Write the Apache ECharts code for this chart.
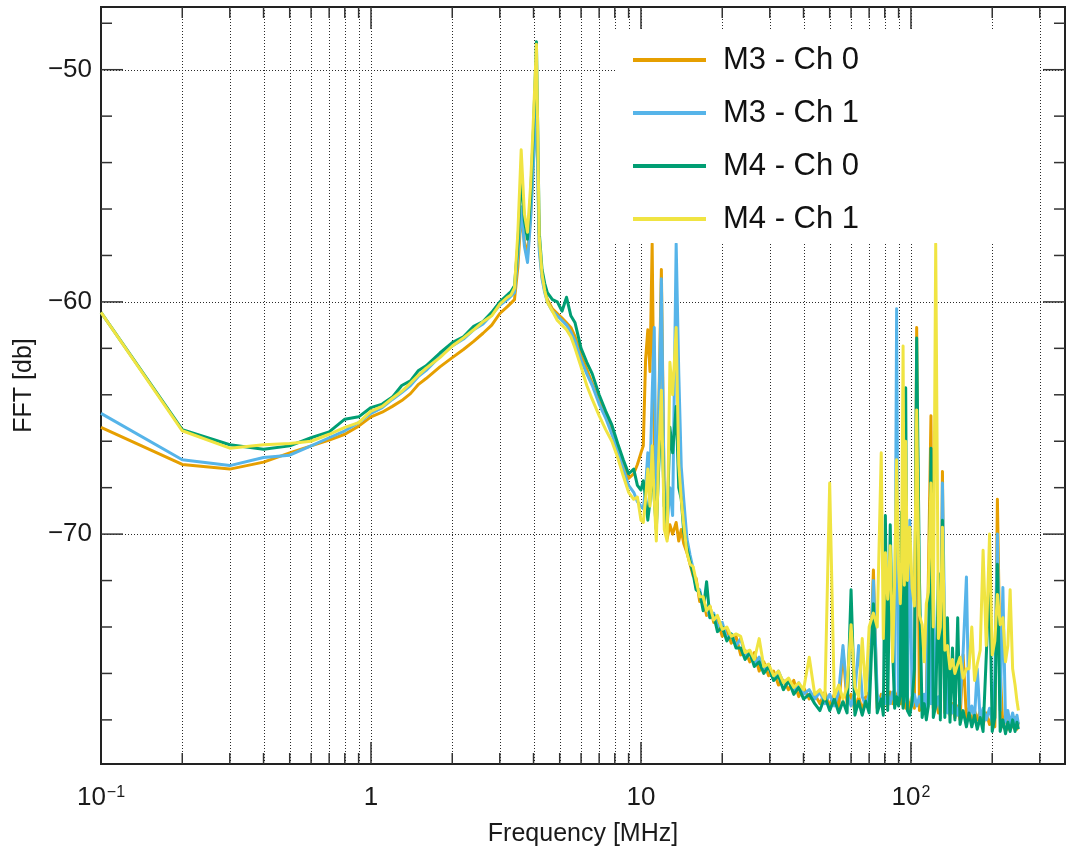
<!DOCTYPE html>
<html><head><meta charset="utf-8">
<script src="https://cdn.jsdelivr.net/npm/echarts@6/dist/echarts.min.js"></script>
<style>html,body{margin:0;padding:0;background:#fff}#c{width:1066px;height:851px}</style>
</head><body><div id="c"></div>
<script>
// ---------------- data ----------------
const freqMHz = [
  0.1, 0.2, 0.3, 0.4, 0.5, 0.6, 0.7, 0.8, 0.9, 1.0,
  1.1, 1.2, 1.3, 1.4, 1.5, 1.6, 1.8, 2.0, 2.2, 2.4, 2.6, 2.8, 3.0, 3.2, 3.3,
  3.4, 3.5, 3.6, 3.7, 3.8, 3.9, 4.0, 4.1, 4.2, 4.3, 4.4, 4.5, 4.7, 4.9,
  5.1, 5.3, 5.5, 5.7, 6.0, 6.3, 6.6, 7.0, 7.4, 7.8, 8.2, 8.6, 9.0, 9.4, 9.7, 10.0,
  10.2, 10.4, 10.6, 10.8, 11.0, 11.2, 11.4, 11.6, 11.9, 12.2, 12.5, 12.8, 13.1, 13.5, 13.8, 14.1, 14.4, 14.8, 15.2,
  15.6, 16.0, 16.5, 17.0, 17.5, 18.0, 18.6, 19.2, 20, 20.8,
  21.6, 22.5, 23.4, 24.3, 25.3, 26.3, 27.4, 28.5, 29.7, 31,
  32.3, 33.7, 35.2, 36.8, 38.4, 40, 42, 44,
  46, 48, 50, 52, 54, 56, 58, 60, 62, 64,
  66, 68, 70, 72.6, 75, 77.6, 79, 80.4, 82, 83.8,
  85.5, 87, 88.5, 90, 91.3, 92.3, 93.5, 94.5, 95.6, 97,
  99, 101, 103, 105, 107.5, 110, 112, 114, 116, 118.6,
  121, 123.5, 126.4, 128.5, 130.8, 133.5, 136.5, 139.5, 142.5, 145.5,
  149, 152, 156, 160.5, 164, 168, 172, 176, 180.5, 185,
  190, 195.5, 200, 204.5, 209, 214, 219, 224, 228.5, 233,
  238, 243, 247, 250
];

const m3ch0 = [
  -65.4, -67.0, -67.2, -66.9, -66.5, -66.2, -65.95, -65.7, -65.35, -64.95,
  -64.75, -64.5, -64.25, -63.95, -63.55, -63.3, -62.8, -62.4, -62.05, -61.7, -61.35, -61.0, -60.5, -60.2, -60.05,
  -59.9, -58.5, -56.2, -57.4, -58.0, -56.3, -53.8, -51.2, -57.6, -58.9, -59.5, -59.9, -60.3, -60.5,
  -60.7, -60.9, -61.1, -61.5, -62.3, -62.9, -63.5, -64.3, -64.9, -65.5, -66.2, -67.0, -67.6, -67.4, -67.0, -66.5,
  -66.2, -62.5, -61.2, -63.0, -57.5, -66.0, -69.8, -65.5, -58.6, -68.5, -70.2, -69.6, -70.0, -69.5, -70.3, -69.8, -70.4, -70.8, -71.3,
  -71.8, -71.9, -72.9, -72.8, -73.5, -73.1, -73.8, -73.7, -74.4, -74.1,
  -74.7, -74.4, -75.2, -75.0, -75.5, -75.1, -75.9, -75.5, -76.1, -75.9,
  -76.5, -76.3, -76.7, -76.3, -77.0, -76.6, -77.1, -76.9,
  -77.3, -76.8, -77.4, -76.9, -77.5, -75.0, -77.3, -76.9, -77.6, -77.0,
  -77.6, -77.0, -76.8, -71.55, -77.5, -76.9, -77.5, -77.0, -77.4, -76.8,
  -77.3, -76.8, -77.2, -76.7, -77.3, -76.9, -77.4, -76.6, -77.5, -77.0,
  -77.6, -77.0, -77.5, -61.1, -77.6, -77.1, -77.7, -77.2, -71.9, -64.9,
  -77.5, -77.0, -77.7, -77.2, -67.3, -77.7, -77.2, -77.8, -77.3, -77.9,
  -77.4, -78.0, -75.2, -77.9, -77.5, -78.1, -77.6, -78.0, -77.6, -78.2,
  -77.7, -78.2, -77.8, -78.3, -68.5, -75.8, -78.3, -77.8, -78.4, -77.9,
  -78.3, -77.9, -78.4, -78.1
];

const m3ch1 = [
  -64.8, -66.8, -67.05, -66.7, -66.6, -66.2, -65.85, -65.55, -65.2, -64.8,
  -64.55, -64.2, -63.9, -63.6, -63.2, -62.95, -62.35, -61.9, -61.6, -61.2, -60.95, -60.55, -60.15, -59.9, -59.75,
  -59.6, -58.0, -55.9, -57.6, -58.3, -56.5, -54.0, -51.5, -57.8, -59.0, -59.6, -60.0, -60.4, -60.6,
  -60.8, -61.0, -61.3, -61.7, -62.5, -63.1, -63.6, -64.4, -65.0, -65.7, -66.4, -67.2, -67.9, -68.2, -68.6, -68.8,
  -68.9, -68.0, -66.5, -67.5, -64.0, -61.1, -69.0, -66.0, -59.0, -68.8, -69.6, -68.0, -69.2, -57.5, -63.0, -67.1, -68.5, -70.2, -70.9,
  -71.5, -72.3, -72.4, -73.1, -73.1, -73.6, -73.4, -74.0, -73.8, -74.5,
  -74.3, -74.8, -74.5, -75.2, -75.1, -75.6, -75.3, -75.8, -75.7, -76.3,
  -75.9, -76.4, -76.3, -76.8, -76.4, -76.9, -76.7, -77.1,
  -76.8, -77.3, -76.9, -77.4, -76.8, -74.8, -76.9, -77.4, -76.8, -74.8,
  -77.0, -77.4, -76.9, -72.0, -76.9, -77.4, -76.8, -77.3, -76.9, -77.3,
  -76.8, -77.2, -60.3, -77.1, -76.8, -69.4, -76.7, -77.2, -76.9, -77.3,
  -69.4, -77.4, -76.9, -77.4, -77.0, -77.5, -76.9, -77.5, -73.2, -77.3,
  -72.3, -77.5, -77.0, -77.6, -67.8, -74.5, -77.7, -77.1, -77.7, -77.2,
  -77.8, -77.3, -75.1, -71.85, -77.9, -77.4, -77.9, -75.8, -78.0, -77.5,
  -78.0, -77.5, -78.1, -76.2, -70.0, -77.6, -72.3, -78.1, -77.6, -78.2,
  -77.7, -78.2, -77.8, -78.2
];

const m4ch0 = [
  -60.45, -65.5, -66.15, -66.35, -66.2, -65.85, -65.6, -65.05, -64.95, -64.55,
  -64.4, -64.1, -63.6, -63.4, -62.95, -62.75, -62.2, -61.75, -61.5, -61.05, -60.85, -60.45, -60.0, -59.7, -59.55,
  -59.3, -57.5, -54.5, -56.5, -57.3, -55.5, -52.5, -48.8, -57.0, -58.6, -59.2, -59.6, -59.9, -60.0,
  -60.4, -59.8, -60.6, -60.9, -62.0, -62.6, -63.1, -64.0, -64.7, -65.3, -66.1, -66.8, -67.4, -67.2, -67.9, -68.1,
  -67.7, -68.4, -69.4, -68.6, -67.0, -68.5, -69.8, -67.5, -64.5, -68.8, -69.5, -65.4, -66.5, -64.5, -68.0, -68.5, -69.9, -70.6, -71.2,
  -71.7, -72.4, -72.5, -73.3, -72.05, -73.6, -73.5, -74.2, -74.0, -74.6,
  -74.3, -74.9, -74.9, -75.4, -75.1, -75.7, -75.5, -76.0, -75.7, -76.3,
  -76.1, -76.7, -76.3, -76.9, -76.6, -77.1, -76.9, -77.3,
  -77.6, -77.0, -77.6, -77.1, -77.7, -77.2, -77.7, -72.4, -77.8, -77.2,
  -77.8, -77.2, -77.7, -73.0, -77.7, -77.1, -77.8, -69.2, -77.6, -69.6,
  -74.9, -77.5, -77.0, -77.4, -76.9, -69.05, -77.5, -77.0, -63.7, -77.6,
  -77.8, -77.2, -75.8, -61.55, -71.9, -77.9, -77.3, -78.0, -77.4, -66.3,
  -77.9, -77.4, -71.7, -78.0, -69.4, -77.9, -73.6, -78.1, -74.9, -78.0,
  -73.6, -78.2, -77.6, -78.3, -77.7, -78.3, -77.8, -78.4, -77.9, -78.5,
  -75.3, -71.8, -78.5, -77.9, -71.3, -78.5, -78.0, -78.6, -78.1, -78.5,
  -78.0, -78.5, -78.1, -78.4
];

const m4ch1 = [
  -60.45, -65.55, -66.3, -66.15, -66.1, -66.0, -65.7, -65.4, -65.2, -64.7,
  -64.5, -64.15, -63.85, -63.5, -63.15, -62.85, -62.4, -61.9, -61.55, -61.2, -60.85, -60.6, -60.1, -59.8, -59.7,
  -59.4, -57.0, -53.45, -56.2, -57.0, -55.0, -52.0, -48.9, -57.2, -58.8, -59.5, -60.0, -60.4, -60.8,
  -61.0, -61.2, -61.5, -62.0, -62.8, -63.6, -64.2, -64.9, -65.5, -66.0, -66.7, -67.5, -68.2, -68.5, -68.4, -69.4,
  -69.5, -68.5, -67.2, -68.8, -66.2, -68.5, -70.3, -67.0, -63.8, -69.8, -70.3, -62.6, -64.0, -61.1, -67.0, -68.5, -69.6, -70.8, -71.3,
  -71.4, -72.0, -72.7, -72.7, -73.3, -73.1, -73.7, -73.5, -74.1, -74.0,
  -74.4, -74.3, -74.4, -75.1, -75.0, -75.4, -74.5, -75.7, -75.6, -76.1,
  -75.9, -76.4, -76.2, -76.6, -76.4, -76.7, -75.3, -76.9,
  -76.7, -77.1, -67.8, -77.0, -76.5, -77.1, -76.6, -73.9, -76.6, -77.0,
  -74.5, -76.9, -74.0, -73.4, -74.0, -66.5, -74.5, -70.8, -72.8, -70.5,
  -75.5, -72.0, -66.8, -71.5, -73.0, -71.2, -61.9, -72.2, -66.0, -72.0,
  -69.7, -72.3, -73.1, -64.65, -73.5, -73.9, -75.5, -73.0, -72.5, -67.8,
  -74.0, -57.5, -74.5, -74.0, -69.7, -75.0, -74.8, -75.8, -75.4, -76.0,
  -75.6, -75.3, -76.2, -75.8, -75.8, -74.0, -76.3, -75.6, -75.0, -70.7,
  -74.8, -70.0, -75.2, -74.6, -72.6, -73.9, -73.6, -75.5, -74.8, -72.4,
  -75.8, -76.5, -77.2, -77.6
];

const seriesNames = ['M3 - Ch 0', 'M3 - Ch 1', 'M4 - Ch 0', 'M4 - Ch 1'];
const seriesColors = ['#E69F00', '#56B4E9', '#009E73', '#F0E442'];

const xMajorTicks = [0.1, 1, 10, 100];
const xMinorTicks = [0.2, 0.3, 0.4, 0.5, 0.6, 0.7, 0.8, 0.9,
                     2, 3, 4, 5, 6, 7, 8, 9,
                     20, 30, 40, 50, 60, 70, 80, 90,
                     200, 300];
const yMajorTicks = [-70, -60, -50];
const yMinorTicks = [-78, -76, -74, -72, -68, -66, -64, -62, -58, -56, -54, -52, -48];

// ---------------- chart ----------------
const X_MIN = 0.1, X_MAX = 372, Y_MIN = -79.9, Y_MAX = -47.3;
const FONT = '"Liberation Sans", Arial, Helvetica, sans-serif';
const INK = '#1a1a1a';

const values = [m3ch0, m3ch1, m4ch0, m4ch1];
values.forEach((arr, i) => {
  if (arr.length !== freqMHz.length) throw new Error('length mismatch ' + i + ': ' + arr.length + ' vs ' + freqMHz.length);
});

function px(v) { return Math.round(v) + 0.5; }

function gridRender(params, api) {
  const ch = [];
  const dot = { stroke: '#2a2a2a', lineWidth: 1, lineDash: [1, 2] };
  xMajorTicks.concat(xMinorTicks).forEach(v => {
    if (v <= X_MIN || v >= X_MAX) return;
    const a = api.coord([v, Y_MIN]), b = api.coord([v, Y_MAX]);
    ch.push({ type: 'line', shape: { x1: px(a[0]), y1: a[1], x2: px(b[0]), y2: b[1] }, style: dot });
  });
  yMajorTicks.forEach(v => {
    const a = api.coord([X_MIN, v]), b = api.coord([X_MAX, v]);
    ch.push({ type: 'line', shape: { x1: a[0], y1: px(a[1]), x2: b[0], y2: px(b[1]) }, style: dot });
  });
  return { type: 'group', children: ch };
}

function tickRender(params, api) {
  const ch = [];
  const st = { stroke: '#333', lineWidth: 1.5 };
  const add = (v, len, isX) => {
    if (isX) {
      const a = api.coord([v, Y_MIN]), b = api.coord([v, Y_MAX]);
      ch.push({ type: 'line', shape: { x1: a[0], y1: a[1], x2: a[0], y2: a[1] - len }, style: st });
      ch.push({ type: 'line', shape: { x1: b[0], y1: b[1], x2: b[0], y2: b[1] + len }, style: st });
    } else {
      const a = api.coord([X_MIN, v]), b = api.coord([X_MAX, v]);
      ch.push({ type: 'line', shape: { x1: a[0], y1: a[1], x2: a[0] + len, y2: a[1] }, style: st });
      ch.push({ type: 'line', shape: { x1: b[0], y1: b[1], x2: b[0] - len, y2: b[1] }, style: st });
    }
  };
  xMajorTicks.forEach(v => { if (v > X_MIN) add(v, 22, true); });
  xMinorTicks.forEach(v => add(v, 11, true));
  yMajorTicks.forEach(v => add(v, 22, false));
  yMinorTicks.forEach(v => add(v, 11, false));
  return { type: 'group', children: ch };
}

function fmtX(v) {
  const e = Math.round(Math.log10(v) * 1000) / 1000;
  if (e === -1) return '10{sup|\u22121}';
  if (e === 0) return '1';
  if (e === 1) return '10';
  if (e === 2) return '10{sup|2}';
  return '';
}
function fmtY(v) {
  if (Math.abs(v % 10) > 1e-6) return '';
  return (v < 0 ? '\u2212' : '') + Math.abs(v);
}

const lineSeries = values.map((arr, i) => ({
  name: seriesNames[i],
  type: 'line',
  data: freqMHz.map((f, k) => [f, arr[k]]),
  showSymbol: false,
  symbol: 'none',
  color: seriesColors[i],
  lineStyle: { width: 3, color: seriesColors[i], join: 'round' },
  z: 3,
  silent: true
}));

const chart = echarts.init(document.getElementById('c'), null, { renderer: 'canvas' });
chart.setOption({
  animation: false,
  backgroundColor: '#fff',
  textStyle: { fontFamily: FONT },
  grid: {
    left: 101, right: 1, top: 7, bottom: 87,
    show: true, borderColor: '#222', borderWidth: 2, backgroundColor: '#fff',
    containLabel: false, outerBoundsMode: 'none'
  },
  legend: {
    data: seriesNames,
    orient: 'vertical',
    left: 615, top: 30,
    padding: [12, 180, 6, 18],
    backgroundColor: '#fff',
    borderWidth: 0,
    icon: 'rect',
    itemWidth: 73, itemHeight: 4,
    itemGap: 17,
    selectedMode: false,
    textStyle: { fontSize: 31, color: '#111', fontFamily: FONT, lineHeight: 36, padding: [0, 0, 0, 12] }
  },
  xAxis: {
    type: 'log', logBase: 10, min: X_MIN, max: X_MAX,
    axisLine: { show: false }, axisTick: { show: false },
    splitLine: { show: false }, minorTick: { show: false }, minorSplitLine: { show: false },
    axisLabel: {
      margin: 21, fontSize: 26, color: INK, fontFamily: FONT,
      formatter: fmtX, showMaxLabel: false,
      rich: { sup: { fontSize: 16, color: INK, fontFamily: FONT, verticalAlign: 'top', padding: [0, 0, 8, 1] } }
    },
    name: 'Frequency [MHz]', nameLocation: 'middle', nameGap: 58,
    nameTextStyle: { fontSize: 25, color: INK, fontFamily: FONT }
  },
  yAxis: {
    type: 'value', min: Y_MIN, max: Y_MAX, splitNumber: 3,
    axisLine: { show: false }, axisTick: { show: false }, splitLine: { show: false },
    axisLabel: { margin: 9, fontSize: 26, color: INK, fontFamily: FONT, formatter: fmtY },
    name: 'FFT [db]', nameLocation: 'middle', nameGap: 54, nameRotate: 90,
    nameTextStyle: { fontSize: 25, color: INK, fontFamily: FONT }
  },
  series: [
    { name: '_grid', type: 'custom', renderItem: gridRender, data: [[1, -60]], encode: { x: 0, y: 1 }, z: 1, silent: true, clip: false },
    ...lineSeries,
    { name: '_ticks', type: 'custom', renderItem: tickRender, data: [[1, -60]], encode: { x: 0, y: 1 }, z: 5, silent: true, clip: false }
  ]
});
</script>
</body></html>
